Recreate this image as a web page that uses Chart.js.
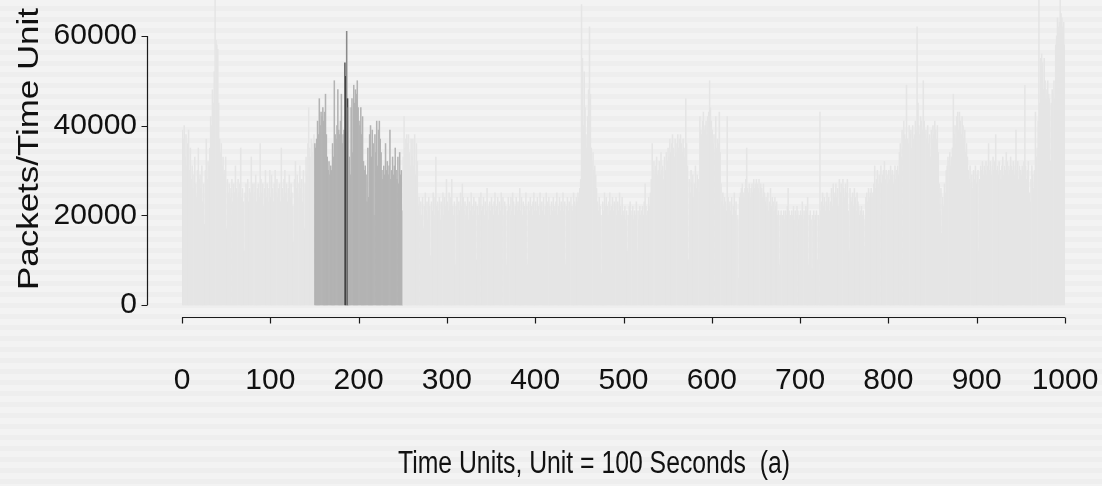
<!DOCTYPE html>
<html><head><meta charset="utf-8">
<script src="https://cdn.jsdelivr.net/npm/chart.js@4"></script>
<style>html,body{margin:0;padding:0;background:#f1f1f1;overflow:hidden}#wrap{width:1102px;height:486px}</style>
</head><body><div id="wrap"><canvas id="c" width="1102" height="486"></canvas></div>
<script>
// Packets per time unit, in thousands, for time units 0..999
const packetsK = [
39,37,40,33,38,31,36,39,30,35,
28,31,26,29,33,27,24,30,35,28,
29,26,31,23,27,18,30,37,28,32,
31,35,42,40,48,45,52,70,59,58,
57,45,37,34,36,31,33,29,30,33,
17,28,25,27,24,26,28,23,27,25,
31,26,24,28,25,27,35,24,26,23,
12,25,27,24,28,23,26,25,33,27,
24,27,25,29,23,26,27,24,36,28,
25,27,22,26,30,24,27,23,26,30,
24,29,26,23,27,30,25,28,24,26,
27,23,35,26,24,28,30,25,27,23,
26,29,24,27,25,22,14,28,32,26,
29,24,27,31,26,28,23,30,17,27,
33,29,36,44,35,33,37,34,36,38,
36,35,37,41,38,46,40,43,42,44,
41,43,47,38,33,30,32,29,31,30,
36,33,50,38,37,40,48,39,38,41,
47,36,38,39,54,51,61,46,44,33,
29,44,46,34,49,45,48,47,50,44,
41,40,44,38,42,32,30,31,29,23,
35,24,38,40,33,39,36,20,38,34,
41,31,39,41,37,34,30,28,31,29,
36,30,32,29,31,39,28,30,33,29,
31,35,30,28,33,27,34,29,30,21,
33,42,35,37,38,36,38,34,31,37,
33,37,31,38,29,36,32,22,24,21,
23,20,24,17,22,25,21,23,19,24,
22,11,23,21,25,20,24,33,22,23,
21,24,19,23,22,25,20,24,22,28,
23,21,25,22,24,28,22,20,23,9,
22,24,20,23,21,25,22,27,24,21,
23,20,22,24,19,23,21,25,22,20,
24,21,23,10,22,20,24,22,25,21,
22,24,20,23,21,26,22,19,23,21,
24,22,20,23,25,21,22,24,20,23,
21,25,22,24,20,23,22,9,21,24,
22,20,24,21,25,23,20,22,24,21,
23,22,26,21,24,20,23,22,21,25,
22,9,23,21,24,22,20,23,25,21,
23,21,24,22,20,25,22,23,21,24,
20,22,25,23,21,24,22,20,23,21,
24,22,21,23,25,20,22,24,21,23,
22,25,21,23,9,22,24,21,23,22,
24,22,21,25,23,22,24,23,25,24,
26,28,67,55,40,52,44,38,35,42,
48,62,47,35,32,34,30,31,29,26,
23,21,24,22,20,7,23,21,25,22,
24,22,20,23,25,21,22,24,21,23,
22,24,20,23,21,25,22,20,24,21,
20,22,19,21,12,20,22,23,21,20,
22,19,21,20,23,12,21,19,22,20,
21,22,20,23,27,22,20,21,24,22,
25,28,36,30,32,29,31,33,29,30,
32,29,34,30,31,28,33,30,34,32,
35,33,37,34,36,38,35,33,37,34,
36,38,35,37,38,36,34,37,35,33,
46,36,31,10,28,25,30,27,29,24,
27,31,26,29,28,25,42,39,38,41,
43,39,40,41,38,42,43,50,44,41,
39,36,38,34,42,35,37,36,43,34,
27,23,25,22,24,23,21,42,24,22,
23,21,24,20,22,25,21,23,20,19,
6,24,25,26,27,25,24,26,28,35,
26,25,27,24,26,27,25,28,26,27,
28,27,26,28,25,27,26,24,27,25,
23,24,22,25,21,23,26,22,24,23,
21,24,22,23,20,21,9,20,21,19,
20,21,19,21,20,22,26,21,19,20,
21,20,22,19,21,20,22,21,19,20,
21,20,23,19,21,20,22,21,24,9,
20,21,19,8,20,21,19,20,21,10,
20,19,43,21,23,25,22,24,21,23,
25,22,24,21,23,26,22,27,24,25,
27,24,26,22,28,25,27,23,28,26,
24,27,25,28,21,12,26,24,23,25,
22,26,24,21,25,23,22,20,21,22,
20,21,13,19,24,25,23,26,24,25,
26,24,25,27,31,26,28,30,27,29,
28,31,27,29,30,32,28,30,29,27,
30,28,31,29,30,27,29,31,28,30,
31,29,34,36,33,39,35,41,38,37,
49,37,36,40,38,39,35,40,37,38,
41,39,62,45,40,38,42,41,39,50,
41,38,39,37,40,36,38,33,39,37,
40,38,41,39,37,40,34,27,21,26,
16,24,22,27,25,30,31,33,32,34,
31,33,35,47,38,40,36,42,43,39,
43,41,38,42,40,37,39,34,36,33,
30,28,31,27,29,26,30,28,31,27,
29,30,12,28,31,30,32,29,31,30,
32,29,31,36,30,32,29,31,33,30,
32,38,30,31,29,32,30,28,31,33,
29,31,30,34,32,29,31,30,33,31,
30,32,29,31,39,30,32,28,31,30,
29,31,30,32,49,31,28,30,32,25,
23,28,31,29,26,30,43,33,35,41,
70,45,55,56,54,48,55,50,46,48,
50,47,46,32,45,48,47,50,46,58,
60,64,62,63,70,65,64,62,63,58
];
const timeUnits = packetsK.map((v, i) => i);
const packets = packetsK.map(v => v * 1000);
const highlightRange = [150, 249];          // selected interval
const darkUnits = [184, 185, 186, 187];     // darkest marked units
const yTickValues = [0, 20000, 40000, 60000];
const xTickValues = [0, 100, 200, 300, 400, 500, 600, 700, 800, 900, 1000];
const xTitle = 'Time Units, Unit = 100 Seconds  (a)';
const yTitle = 'Packets/Time Unit';

const darkColors = {184: '#5a5a5a', 185: '#3a3a3a', 186: '#8a8a8a', 187: '#4a4a4a'};
const colors = timeUnits.map(t => {
  if (darkUnits.includes(t)) return darkColors[t];
  if (t >= highlightRange[0] && t <= highlightRange[1]) return '#b3b3b3';
  return '#e5e5e5';
});

const TICK_FONT = {family: '"Liberation Sans", Arial, sans-serif', size: 30};

function zeroPad(s) { s.paddingLeft = 0; s.paddingRight = 0; s.paddingTop = 0; s.paddingBottom = 0; }

const decor = {
  id: 'decor',
  beforeDraw(chart) {
    const ctx = chart.ctx, W = chart.width, H = chart.height;
    ctx.save();
    for (let y = 0; y < H; y += 11) {
      ctx.fillStyle = '#f3f3f3'; ctx.fillRect(0, y, W, 6);
      ctx.fillStyle = '#eeeeee'; ctx.fillRect(0, y + 6, W, 5);
    }
    ctx.restore();
  },
  afterDraw(chart) {
    const ctx = chart.ctx, xs = chart.scales.x, ys = chart.scales.y;
    ctx.save();
    ctx.strokeStyle = '#1a1a1a'; ctx.lineWidth = 1.2;
    const axY = 317.5;
    ctx.beginPath();
    ctx.moveTo(xs.getPixelForValue(xTickValues[0]), axY);
    ctx.lineTo(xs.getPixelForValue(xTickValues[xTickValues.length - 1]), axY);
    xTickValues.forEach(v => { const p = Math.round(xs.getPixelForValue(v)) + 0.5; ctx.moveTo(p, axY); ctx.lineTo(p, axY + 6); });
    ctx.stroke();
    const axX = 147.5;
    ctx.beginPath();
    ctx.moveTo(axX, ys.getPixelForValue(yTickValues[0]));
    ctx.lineTo(axX, ys.getPixelForValue(yTickValues[yTickValues.length - 1]));
    yTickValues.forEach(v => { const p = Math.round(ys.getPixelForValue(v)) + 0.5; ctx.moveTo(axX, p); ctx.lineTo(axX - 6, p); });
    ctx.stroke();
    ctx.fillStyle = '#111';
    ctx.textAlign = 'center'; ctx.textBaseline = 'middle';
    ctx.save();
    ctx.font = '31px "Liberation Sans", Arial, sans-serif';
    ctx.translate(594, 464);
    const w1 = ctx.measureText(xTitle).width;
    ctx.scale(392 / w1, 1);
    ctx.fillText(xTitle, 0, 0);
    ctx.restore();
    ctx.save();
    ctx.font = '30px "Liberation Sans", Arial, sans-serif';
    ctx.translate(30, 149);
    ctx.rotate(-Math.PI / 2);
    const w2 = ctx.measureText(yTitle).width;
    ctx.scale(282 / w2, 1);
    ctx.fillText(yTitle, 0, 0);
    ctx.restore();
    ctx.restore();
  }
};

new Chart(document.getElementById('c'), {
  type: 'bar',
  data: {
    datasets: [{
      data: timeUnits.map((t, i) => ({x: t + 0.5, y: packets[i]})),
      backgroundColor: colors,
      borderWidth: 0,
      barPercentage: 1,
      categoryPercentage: 1
    }]
  },
  options: {
    responsive: false,
    animation: false,
    devicePixelRatio: 1,
    layout: {padding: {left: 0, right: 37, top: 0, bottom: 0}},
    plugins: {legend: {display: false}, tooltip: {enabled: false}},
    scales: {
      x: {
        type: 'linear', min: 0, max: 1000, offset: false,
        grid: {display: false, drawTicks: false},
        border: {display: false},
        afterBuildTicks: s => { s.ticks = xTickValues.map(v => ({value: v})); },
        afterFit: s => { s.height = 169; zeroPad(s); },
        ticks: {font: TICK_FONT, color: '#111', padding: 46, maxRotation: 0, autoSkip: false, callback: v => String(v)}
      },
      y: {
        min: -2677, max: 68000,
        grid: {display: false, drawTicks: false},
        border: {display: false},
        afterBuildTicks: s => { s.ticks = yTickValues.map(v => ({value: v})); },
        afterFit: s => { s.width = 182; zeroPad(s); },
        ticks: {font: TICK_FONT, color: '#111', padding: 45, callback: v => String(v)}
      }
    }
  },
  plugins: [decor]
});
</script></body></html>
